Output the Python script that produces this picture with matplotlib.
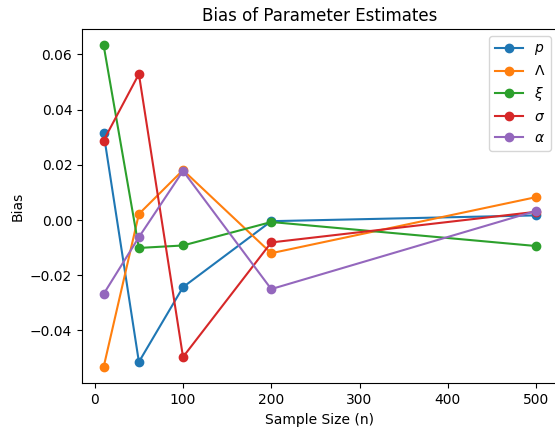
import matplotlib
matplotlib.use('Agg')
import matplotlib.pyplot as plt

sizes = [10, 50, 100, 200, 500]
labels = ['$p$', '$\\Lambda$', '$\\xi$', '$\\sigma$', '$\\alpha$']
bias_p = [0.0315, -0.0514, -0.0243, -0.0004, 0.0017]
bias_lam = [-0.0533, 0.0022, 0.0181, -0.0120, 0.0083]
bias_xi = [0.0634, -0.0101, -0.0092, -0.0007, -0.0094]
bias_sigma = [0.0288, 0.0529, -0.0496, -0.0081, 0.0030]
bias_alpha = [-0.0268, -0.0062, 0.0178, -0.0250, 0.0033]

series = [bias_p, bias_lam, bias_xi, bias_sigma, bias_alpha]

fig = plt.figure(figsize=(5.55, 4.29), dpi=100)
# axes runs slightly past the right edge, like a cropped image
ax = fig.add_axes([0.1477, 0.1065, 0.857, 0.826])
for vals, lab in zip(series, labels):
   ax.plot(sizes, vals, marker='o', label=lab)
ax.set_title('Bias of Parameter Estimates')
ax.set_xlabel('Sample Size (n)')
ax.set_ylabel('Bias')
ax.legend(loc='upper right')
fig.savefig('out.png')
